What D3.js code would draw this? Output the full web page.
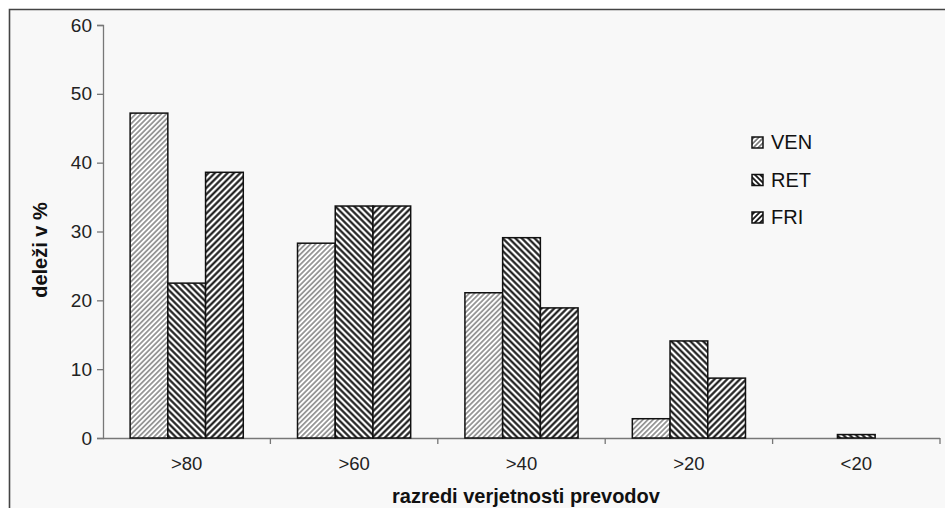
<!DOCTYPE html>
<html>
<head>
<meta charset="utf-8">
<script src="https://cdn.jsdelivr.net/npm/d3@7"></script>
<style>
  html, body { margin: 0; padding: 0; background: #ffffff; }
  svg { display: block; font-family: "Liberation Sans", Arial, sans-serif; }
</style>
</head>
<body>
<svg id="chart" width="945" height="508"></svg>
<script>
const categories = [">80", ">60", ">40", ">20", "<20"];
const seriesNames = ["VEN", "RET", "FRI"];
const venValues = [47.2, 28.3, 21.1, 2.8, 0];
const retValues = [22.5, 33.7, 29.1, 14.1, 0.5];
const friValues = [38.6, 33.7, 18.9, 8.7, 0];
const yTicks = [0, 10, 20, 30, 40, 50, 60];
const yTitle = "deleži v %";
const xTitle = "razredi verjetnosti prevodov";

const seriesValues = [venValues, retValues, friValues];
const data = categories.map((c, i) => ({ cat: c, vals: seriesNames.map((s, j) => ({ s, v: seriesValues[j][i] })) }));

const svg = d3.select("#chart");
const W = 945, H = 508;

// frame background
svg.append("rect").attr("x", 9).attr("y", 9).attr("width", W - 9).attr("height", H - 9)
  .attr("fill", "#f8f8f8");
svg.append("path").attr("d", `M9.5,${H} L9.5,9.5 L${W},9.5`)
  .attr("fill", "none").attr("stroke", "#444").attr("stroke-width", 1.6);

// patterns
const defs = svg.append("defs");
function pattern(id, size, angle, color, sw) {
  const p = defs.append("pattern").attr("id", id).attr("patternUnits", "userSpaceOnUse")
    .attr("width", size).attr("height", size).attr("patternTransform", `rotate(${angle})`);
  p.append("rect").attr("width", size).attr("height", size).attr("fill", "#fff");
  p.append("line").attr("x1", size / 2).attr("y1", 0).attr("x2", size / 2).attr("y2", size)
    .attr("stroke", color).attr("stroke-width", sw);
}
pattern("pVEN", 3.6, 45, "#6e6e6e", 1.3);
pattern("pRET", 4.5, -45, "#111", 2.1);
pattern("pFRI", 4.5, 45, "#111", 2.1);
pattern("lVEN", 3.4, 45, "#444", 1.2);
pattern("lRET", 3.8, -45, "#111", 1.8);
pattern("lFRI", 3.8, 45, "#111", 1.8);

const x0 = d3.scaleBand().domain(categories).range([103, 940]).paddingInner(0.324).paddingOuter(0.162);
const x1 = d3.scaleBand().domain(seriesNames).range([0, x0.bandwidth()]);
const y = d3.scaleLinear().domain([0, 60]).range([438, 25]);

// axes
const yAxis = d3.axisLeft(y).tickValues(yTicks).tickSize(6).tickPadding(5);
const gy = svg.append("g").attr("transform", "translate(103,0)").call(yAxis);
gy.selectAll("path, line").attr("stroke", "#777").attr("stroke-width", 1.3);
gy.selectAll("text").attr("font-size", 19).attr("fill", "#222").attr("font-family", "Liberation Sans, Arial, sans-serif");

// x axis line and ticks at band boundaries
const xLine = d3.scaleLinear().domain([0, categories.length]).range([103, 940]);
const gx = svg.append("g");
gx.append("line").attr("x1", 103).attr("x2", 940).attr("y1", 438.5).attr("y2", 438.5)
  .attr("stroke", "#777").attr("stroke-width", 1.3);
gx.selectAll("line.tk").data(d3.range(1, categories.length + 1)).join("line").attr("class", "tk")
  .attr("x1", d => xLine(d)).attr("x2", d => xLine(d)).attr("y1", 438).attr("y2", 444)
  .attr("stroke", "#777").attr("stroke-width", 1.3);
gx.selectAll("text").data(categories).join("text")
  .attr("x", d => x0(d) + x0.bandwidth() / 2).attr("y", 470)
  .attr("text-anchor", "middle").attr("font-size", 18.5).attr("fill", "#222").text(d => d);

// bars
const groups = svg.append("g").selectAll("g").data(data).join("g")
  .attr("transform", d => `translate(${x0(d.cat)},0)`);
groups.selectAll("rect").data(d => d.vals).join("rect")
  .attr("x", d => x1(d.s)).attr("width", x1.bandwidth())
  .attr("y", d => y(d.v)).attr("height", d => y(0) - y(d.v))
  .attr("fill", d => `url(#p${d.s})`)
  .attr("stroke", d => d.v > 0 ? "#111" : "none").attr("stroke-width", 1.5);

// titles
svg.append("text").attr("transform", "translate(47,250) rotate(-90)")
  .attr("text-anchor", "middle").attr("font-size", 20).attr("font-weight", "bold").attr("fill", "#111")
  .text(yTitle);
svg.append("text").attr("x", 526).attr("y", 503).attr("text-anchor", "middle")
  .attr("font-size", 20).attr("font-weight", "bold").attr("fill", "#111").text(xTitle);

// legend
const legend = svg.append("g").selectAll("g").data(seriesNames).join("g")
  .attr("transform", (d, i) => `translate(752,${137 + i * 37.5})`);
legend.append("rect").attr("width", 11).attr("height", 11)
  .attr("fill", d => `url(#l${d})`).attr("stroke", "#111").attr("stroke-width", 1.5);
legend.append("text").attr("x", 19).attr("y", 12).attr("font-size", 20).attr("fill", "#111").text(d => d);
</script>
</body>
</html>
